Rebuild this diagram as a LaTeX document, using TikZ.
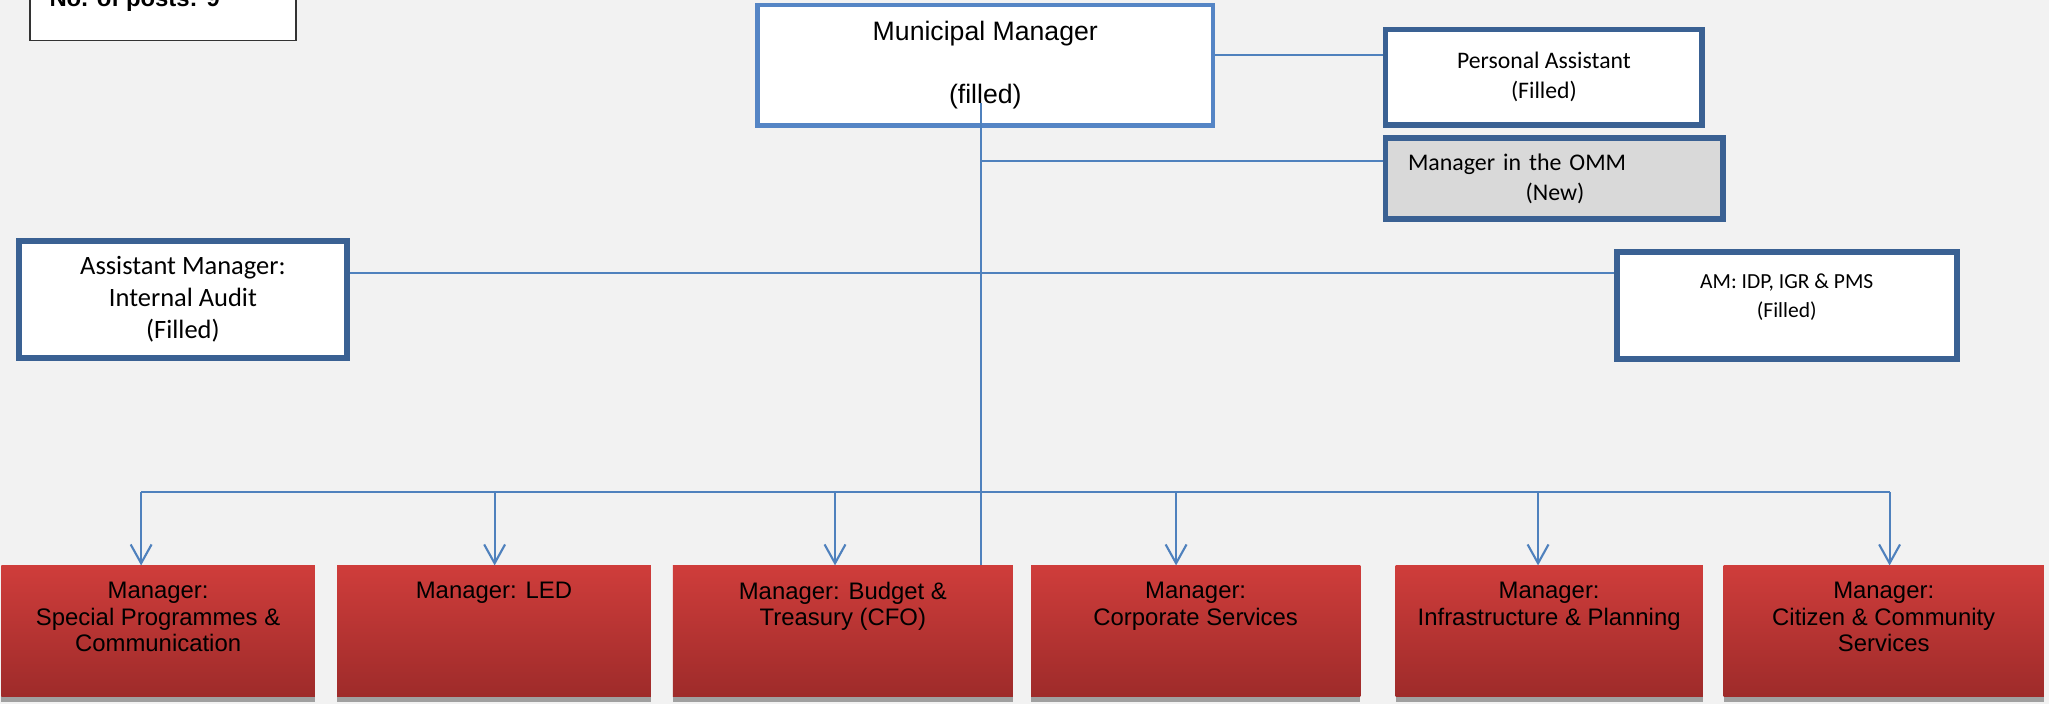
\documentclass[tikz,border=0pt]{standalone}
\usepackage{fontspec}
\setmainfont{Liberation Sans}
\newfontfamily\calibri{Carlito}
\usetikzlibrary{arrows.meta,shadows}
\definecolor{bgc}{HTML}{F2F2F2}
\definecolor{lineblue}{HTML}{4F81BD}
\definecolor{mmblue}{HTML}{5585C5}
\definecolor{darkblue}{HTML}{3A6193}
\definecolor{ommgray}{HTML}{D9D9D9}
\definecolor{redtop}{HTML}{CF3D3B}
\definecolor{redbot}{HTML}{9E2B2A}
\definecolor{shadowgray}{HTML}{A0A0A0}
\begin{document}
\begin{tikzpicture}[x=0.025cm, y=-0.025cm,
  link/.style={draw=lineblue, line width=1.15pt},
  feed/.style={link, -{Straight Barb[length=0.36cm,width=0.4cm]}},
  head/.style={draw=mmblue, line width=2.6pt, fill=white, inner sep=0pt, align=center},
  post/.style={draw=darkblue, line width=3.2pt, fill=white, inner sep=0pt, align=center},
  mgr/.style={top color=redtop, bottom color=redbot, minimum height=2.5cm, inner sep=0pt,
    drop shadow={shadow xshift=0cm, shadow yshift=-0.1cm, fill=shadowgray, opacity=1}},
  mgrtext/.style={anchor=north, yshift=-0.31cm, inner sep=0pt, align=center,
    font=\fontsize{13}{14.5}\selectfont}]
\useasboundingbox (0,0) rectangle (1568,539);
\fill[bgc] (0,0) rectangle (1568,539);

% legend, cut at the top
\node[draw=black!80, line width=1pt, fill=white, minimum width=5.1cm, minimum height=2.25cm, inner sep=0pt] (legend) at (124.7,-14){};
\node[anchor=base west, inner sep=0pt, font=\bfseries\fontsize{13}{15}\selectfont] (posts) at (37.6,5.1){No. of posts: 9};

% office of the municipal manager
\node[head, minimum width=8.71cm, minimum height=2.31cm, font=\fontsize{14.5}{17.25}\selectfont] (mm) at (754,50){Municipal Manager\\[17.25pt](filled)};
\node[post, minimum width=6.06cm, minimum height=1.82cm, font=\calibri\fontsize{12.9}{16.3}\selectfont] (pa) at (1181.5,59){Personal Assistant\\(Filled)};
\node[post, fill=ommgray, minimum width=6.45cm, minimum height=1.555cm, text width=5.59cm, align=left, font=\calibri\fontsize{13}{16.4}\selectfont] (omm) at (1189.3,136.7){Manager in the OMM\\\hspace*{2.25cm}(New)};
\node[post, minimum width=6.26cm, minimum height=2.245cm, font=\calibri\fontsize{14.4}{17.3}\selectfont] (ia) at (140,229){Assistant Manager:\\Internal Audit\\(Filled)};
\node[post, minimum width=6.5cm, minimum height=2.04cm, label={[inner sep=0pt, align=center, yshift=0.16cm, font=\calibri\fontsize{11.7}{15.4}\selectfont]center:{AM: IDP, IGR \& PMS\\(Filled)}}] (am) at (1367.3,233.8){};

% departments
\node[mgr, minimum width=6cm, label={[mgrtext]north:{Manager:\\Special Programmes \&\\Communication}}] (mgr1) at (121,483){};
\node[mgr, minimum width=6cm, label={[mgrtext]north:{Manager: LED}}] (mgr2) at (378,483){};
\node[mgr, minimum width=6.5cm, label={[mgrtext]north:{Manager: Budget \&\\Treasury (CFO)}}] (mgr3) at (645,483){};
\node[mgr, minimum width=6.3cm, label={[mgrtext]north:{Manager:\\Corporate Services}}] (mgr4) at (915,483){};
\node[mgr, minimum width=5.875cm, label={[mgrtext]north:{Manager:\\Infrastructure \& Planning}}] (mgr5) at (1185.5,483){};
\node[mgr, minimum width=6.125cm, label={[mgrtext]north:{Manager:\\Citizen \& Community\\Services}}] (mgr6) at (1441.5,483){};

\coordinate (trunktop) at (751,79);
\coordinate (trunkend) at (751,432);
\coordinate (ommtap) at (751,123.5);
\coordinate (paline) at (1000,42.4);
\coordinate (iaam) at (700,209);
\coordinate (busl) at (108,376.5);
\coordinate (busr) at (1446,376.5);

\draw[link](paline -| mm.east) -- (paline -| pa.west);
\draw[link](trunktop) -- (trunkend);
\draw[link](ommtap) -- (ommtap -| omm.west);
\draw[link](iaam -| ia.east) -- (iaam -| am.west);
\draw[link](busl) -- (busr);
\foreach \n/\x in {mgr1/108, mgr2/378.5, mgr3/639, mgr4/900, mgr5/1177, mgr6/1446}
  \draw[feed](busl -| \x,0) -- (\n.north -| \x,0);

\end{tikzpicture}
\end{document}
